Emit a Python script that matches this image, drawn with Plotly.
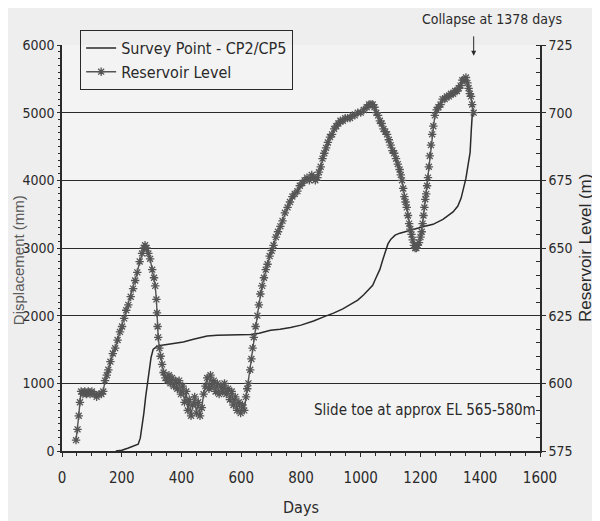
import plotly.graph_objects as go

# ---- data ----
sp_days = [180, 200, 220, 240, 255, 262, 268, 274, 280, 286, 292, 298, 305, 315, 329, 350, 380, 406,
           440, 486, 520, 560, 600, 631, 660, 698, 730, 765, 800, 842, 880, 909, 940, 966, 990, 1010,
           1028, 1040, 1050, 1064, 1074, 1084, 1091, 1101, 1115, 1131, 1150, 1164, 1185, 1208, 1242,
           1275, 1309, 1325, 1336, 1345, 1352, 1359, 1366, 1370, 1374, 1378]
sp_disp = [0, 10, 40, 70, 100, 190, 350, 560, 800, 1020, 1220, 1380, 1500, 1540, 1560, 1575, 1595, 1612,
           1650, 1700, 1710, 1714, 1716, 1720, 1740, 1784, 1800, 1824, 1860, 1922, 1990, 2037, 2100, 2164,
           2230, 2308, 2390, 2450, 2550, 2684, 2830, 2975, 3060, 3130, 3190, 3219, 3245, 3262, 3290, 3313,
           3350, 3423, 3533, 3620, 3737, 3880, 4028, 4220, 4410, 4740, 5026, 5060]

res_days = [47, 52, 56, 60, 64, 70, 76, 82, 88, 94, 100, 108, 116, 124, 132, 138, 144, 150, 155, 162,
            170, 178, 186, 194, 201, 208, 215, 222, 230, 238, 245, 252, 260, 268, 274, 278, 283, 289,
            295, 302, 308, 312, 316, 318, 320, 322, 326, 330, 335, 340, 346, 352,
            358, 363, 368, 374, 380, 386, 392, 398, 404, 410, 416, 421, 426, 432, 438, 444, 450, 456,
            462, 468, 474, 480, 486, 492, 497, 502, 508, 514, 520, 526, 532, 538, 544, 550, 556, 562,
            568, 574, 580, 586, 592, 598, 604, 610, 616, 620,
            624, 630, 634, 638, 642, 648, 654, 659, 664, 670, 676, 682, 688, 695, 702, 708, 716, 723,
            731, 738, 746, 755, 763, 771, 779, 788, 796, 804, 812, 820, 828, 836, 842, 848, 855, 860,
            866, 872, 878, 884, 890, 897, 904, 911, 918, 925, 932, 940, 948, 956, 964, 972, 980, 990,
            1000, 1010, 1020, 1028, 1034, 1040, 1046, 1052, 1058, 1064, 1070, 1076, 1082, 1088, 1094,
            1100, 1106, 1112, 1118, 1124, 1130, 1134, 1138, 1142, 1146, 1150, 1154, 1158, 1162, 1166,
            1170, 1174, 1178, 1182, 1186, 1190, 1195, 1200, 1204, 1207, 1210, 1213, 1216, 1219, 1222,
            1225, 1228, 1231, 1235, 1239, 1243, 1248, 1254, 1260, 1267, 1274, 1281, 1288, 1295, 1302,
            1309, 1316, 1322, 1328, 1334, 1340, 1346, 1352, 1357, 1361, 1365, 1369, 1373, 1378]
res_level = [579, 583, 588, 593, 597, 596, 597, 596, 597, 596, 597, 596, 595, 596, 596, 597, 601, 603,
             605, 608, 611, 613, 616, 619, 621, 624, 627, 629, 632, 635, 638, 641, 645, 648, 650, 651,
             650, 648, 646, 642, 639, 636, 631, 626, 621, 617, 613, 610, 607, 604, 602, 601,
             603, 600, 602, 599, 601, 598, 601, 596, 599, 593, 597, 590, 594, 588, 592, 595, 589, 593,
             588, 591, 596, 599, 602, 598, 603, 599, 601, 597, 600, 596, 599, 597, 600, 596, 598, 594,
             597, 592, 595, 590, 593, 589, 592, 590, 595, 598,
             600, 605, 609, 613, 617, 621, 625, 629, 633, 636, 639, 642, 644, 647, 649, 651, 654, 656,
             658, 660, 663, 665, 667, 669, 670, 671, 673, 674, 675, 676, 675, 677, 676, 675, 676, 678,
             680, 683, 685, 687, 689, 691, 692, 694, 695, 696, 697, 697, 698, 698, 698, 699, 699, 700,
             700, 701, 702, 703, 703, 703, 702, 700, 699, 697, 696, 694, 693, 692, 690,
             688, 686, 685, 683, 681, 679, 677, 675, 672, 669, 667, 665, 662, 659, 657,
             655, 653, 651, 650, 650, 651, 652, 654, 656, 659, 662, 665, 668, 670, 673,
             676, 680, 684, 688, 692, 695, 699, 701, 702, 703, 705, 705, 706, 706, 707,
             707, 708, 708, 709, 710, 712, 712, 713, 711, 709, 707, 706, 703, 700]

x_ticks = [0, 200, 400, 600, 800, 1000, 1200, 1400, 1600]
y_ticks = [0, 1000, 2000, 3000, 4000, 5000, 6000]
y2_ticks = [575, 600, 625, 650, 675, 700, 725]

NARROW = "DejaVu Sans Condensed, Liberation Sans Narrow, Arial Narrow, sans-serif"
REG = "Liberation Sans, Arial, sans-serif"
INK = "#2a2a2a"

fig = go.Figure()
fig.add_trace(go.Scatter(x=sp_days, y=sp_disp, mode="lines", name="Survey Point - CP2/CP5",
                         line=dict(color=INK, width=1.5), yaxis="y"))
fig.add_trace(go.Scatter(x=res_days, y=res_level, mode="lines+markers", name="Reservoir Level",
                         line=dict(color="#555555", width=1.4),
                         marker=dict(symbol="asterisk-open", size=7,
                                     line=dict(color="#555555", width=1.3)),
                         yaxis="y2"))

fig.update_layout(
    width=600, height=521,
    margin=dict(l=54, r=68, t=37, b=78),
    paper_bgcolor="#eeeeee", plot_bgcolor="#f3f3f3",
    font=dict(family=NARROW, size=15, color=INK),
    showlegend=True,
    legend=dict(x=0.038, y=1.037, xanchor="left", yanchor="top",
                bordercolor=INK, borderwidth=1, bgcolor="rgba(0,0,0,0)",
                font=dict(family=NARROW, size=16, color=INK),
                itemwidth=30, tracegroupgap=2),
    xaxis=dict(range=[0, 1600], tickvals=x_ticks, showgrid=False, zeroline=False, automargin=False,
               showline=True, linecolor=INK, linewidth=1.5,
               ticks="outside", ticklen=4, tickcolor=INK, ticklabelstandoff=8,
               minor=dict(dtick=50, ticks="outside", ticklen=3, tickcolor=INK),
               title=dict(text="Days", font=dict(family=NARROW, size=16), standoff=16)),
    yaxis=dict(range=[0, 6000], tickvals=y_ticks, showgrid=True, gridcolor=INK, gridwidth=1,
               zeroline=False, automargin=False, showline=True, linecolor=INK, linewidth=1.5,
               ticks="outside", ticklen=3, tickcolor=INK, tickfont=dict(size=14),
               minor=dict(dtick=100, ticks="outside", ticklen=2, tickcolor=INK, showgrid=False)),
    yaxis2=dict(range=[575, 725], tickvals=y2_ticks, overlaying="y", side="right", automargin=False,
                showgrid=False, zeroline=False, showline=True, linecolor=INK, linewidth=1.5,
                ticks="outside", ticklen=4, tickcolor=INK, tickfont=dict(size=14),
                minor=dict(dtick=5, ticks="inside", ticklen=4, tickcolor=INK)),
)

fig.add_annotation(x=-0.092, y=0.47, xref="paper", yref="paper", text="Displacement (mm)",
                   textangle=-90, showarrow=False, xanchor="center", yanchor="middle",
                   font=dict(family=REG, size=15, color="#5a5a5a"))
fig.add_annotation(x=1.094, y=0.5, xref="paper", yref="paper", text="Reservoir Level (m)",
                   textangle=-90, showarrow=False, xanchor="center", yanchor="middle",
                   font=dict(family=REG, size=17, color=INK))
fig.add_annotation(x=1378, y=721, xref="x", yref="y2", ax=0, ay=-21, text="",
                   showarrow=True, arrowhead=2, arrowsize=1, arrowwidth=1, arrowcolor=INK)
fig.add_annotation(x=1440, y=1.064, xref="x", yref="paper", text="Collapse at 1378 days",
                   showarrow=False, font=dict(family=NARROW, size=14, color=INK),
                   xanchor="center", yanchor="middle")
fig.add_annotation(x=1215, y=600, xref="x", yref="y", text="Slide toe at approx EL 565-580m",
                   showarrow=False, font=dict(family=NARROW, size=15, color=INK))

fig.write_html("out.html")
